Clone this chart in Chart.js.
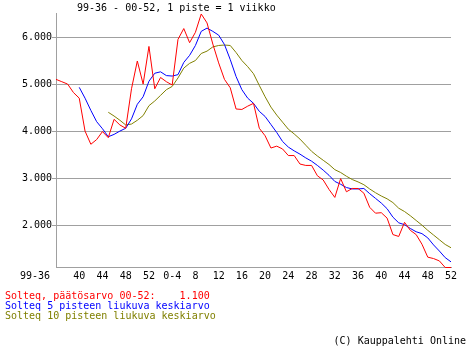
<!DOCTYPE html>
<html>
<head>
<meta charset="utf-8">
<script src="https://cdn.jsdelivr.net/npm/chart.js@4/dist/chart.umd.min.js"></script>
<style>
  html, body { margin: 0; padding: 0; background: #ffffff; }
  #wrap { width: 470px; height: 350px; position: relative; }
</style>
</head>
<body>
<div id="wrap"><canvas id="c" width="470" height="350"></canvas></div>
<script>
// ---- data ----
const years = ['99', '00'];
const firstWeek99 = 36, lastWeek99 = 52, lastWeek00 = 52;
const categories = [];
for (let w = firstWeek99; w <= lastWeek99; w++) categories.push(years[0] + '-' + String(w).padStart(2, '0'));
for (let w = 1; w <= lastWeek00; w++) categories.push(years[1] + '-' + String(w).padStart(2, '0'));

const tickLabels = ['99-36','40','44','48','52','0-4','8','12','16','20','24','28','32','36','40','44','48','52'];
const yTicks = [2000, 3000, 4000, 5000, 6000];

const closeValues = [
  5100, 5050, 5000, 4820, 4700,
  4000, 3720, 3820, 3990, 3860,
  4250, 4130, 4060, 4900, 5490,
  5000, 5800, 4900, 5140, 5050,
  4980, 5950, 6180, 5880, 6100,
  6490, 6300, 5850, 5450, 5100,
  4920, 4470, 4460, 4530, 4590,
  4060, 3900, 3640, 3680, 3620,
  3480, 3480, 3300, 3270, 3270,
  3050, 2960, 2760, 2590, 2990,
  2710, 2780, 2780, 2680, 2380,
  2255, 2265, 2150, 1800, 1760,
  2060, 1890, 1800, 1595, 1320,
  1290, 1240, 1100, 1100
];
const ma5Values = [
  null, null, null, null, 4930,
  4700, 4440, 4200, 4050, 3880,
  3930, 4000, 4060, 4260, 4570,
  4730, 5060, 5230, 5260, 5180,
  5170, 5200, 5460, 5610, 5820,
  6120, 6190, 6120, 6040, 5840,
  5520, 5160, 4880, 4700, 4590,
  4420, 4310, 4140, 3970, 3780,
  3660, 3580, 3510, 3430, 3360,
  3270, 3170, 3060, 2930, 2870,
  2800, 2770, 2770, 2780, 2670,
  2570, 2470, 2350, 2170, 2050,
  2010, 1930, 1860, 1820, 1730,
  1580, 1450, 1310, 1220
];
const ma10Values = [
  null, null, null, null, null,
  null, null, null, null, 4400,
  4320, 4230, 4130, 4150, 4230,
  4330, 4540, 4640, 4760, 4880,
  4950, 5130, 5340, 5440, 5500,
  5650, 5700, 5790, 5820, 5830,
  5820, 5670, 5500, 5370, 5220,
  4970, 4730, 4510, 4340, 4190,
  4040, 3940, 3830, 3700, 3570,
  3470, 3380, 3290, 3180, 3120,
  3040, 2970, 2920, 2860, 2770,
  2690, 2620, 2560, 2480, 2360,
  2290, 2200, 2100, 2000, 1890,
  1790, 1690, 1590, 1520
];

const titleText = '99-36 - 00-52, 1 piste = 1 viikko';
const legendTexts = [
  'Solteq, päätösarvo 00-52:    1.100',
  'Solteq 5 pisteen liukuva keskiarvo',
  'Solteq 10 pisteen liukuva keskiarvo'
];
const footerText = '(C) Kauppalehti Online';

// ---- styles ----
const FONT = '"DejaVu Sans Mono", "Liberation Mono", monospace';
const RED = '#ff0000', BLUE = '#0000ff', OLIVE = '#808000', GRID = '#a0a0a0';

const textPlugin = {
  id: 'texts',
  afterDraw(chart) {
    const ctx = chart.ctx;
    ctx.save();
    ctx.font = '10px ' + FONT;
    ctx.textBaseline = 'middle';
    ctx.textAlign = 'left';
    ctx.fillStyle = '#000000';
    ctx.fillText(titleText, 77, 8.5);
    const cols = [RED, BLUE, OLIVE];
    const ys = [296, 306, 316];
    legendTexts.forEach((t, i) => {
      ctx.fillStyle = cols[i];
      ctx.fillText(t, 5, ys[i]);
    });
    ctx.fillStyle = '#000000';
    ctx.textAlign = 'right';
    ctx.fillText(footerText, 466, 341);
    ctx.restore();
  }
};

new Chart(document.getElementById('c'), {
  type: 'line',
  data: {
    labels: categories,
    datasets: [
      { label: legendTexts[0], data: closeValues, borderColor: RED, borderWidth: 1, pointRadius: 0, tension: 0, clip: false },
      { label: legendTexts[1], data: ma5Values, borderColor: BLUE, borderWidth: 1, pointRadius: 0, tension: 0, clip: false },
      { label: legendTexts[2], data: ma10Values, borderColor: OLIVE, borderWidth: 1, pointRadius: 0, tension: 0, clip: false }
    ]
  },
  options: {
    responsive: false,
    animation: false,
    devicePixelRatio: 1,
    layout: { padding: { left: 0, right: 19, top: 13.5, bottom: 66.5 } },
    plugins: { legend: { display: false }, title: { display: false }, tooltip: { enabled: false } },
    scales: {
      x: {
        type: 'category',
        offset: false,
        grid: { display: true, drawOnChartArea: false, drawTicks: false },
        border: { display: true, color: GRID, width: 1 },
        ticks: {
          autoSkip: false, maxRotation: 0, minRotation: 0, padding: 3,
          color: '#000000', font: { family: FONT, size: 10 },
          callback: (v, i) => {
            if (i % 4 !== 0) return '';
            const t = tickLabels[i / 4];
            return i === 0 ? t + '       ' : t;
          }
        },
        afterFit: (s) => { s.height = 16; }
      },
      y: {
        min: 1100, max: 6500,
        grid: { color: GRID, lineWidth: 1, drawTicks: true, tickLength: 4 },
        border: { display: true, color: GRID, width: 1 },
        afterBuildTicks: (axis) => { axis.ticks = yTicks.map(v => ({ value: v })); },
        ticks: {
          padding: 0, color: '#000000', font: { family: FONT, size: 10 },
          callback: (v) => String(v).replace(/\B(?=(\d{3})+$)/g, '.')
        },
        afterFit: (s) => { s.width = 56; }
      }
    }
  },
  plugins: [textPlugin]
});
</script>
</body>
</html>
